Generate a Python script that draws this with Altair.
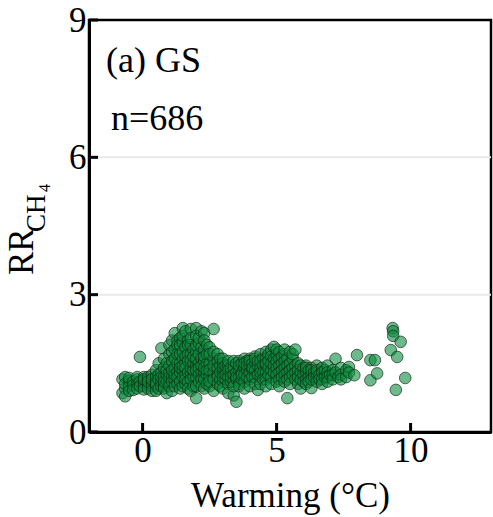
import altair as alt
import pandas as pd

# Warming (°C) column positions and the RR values read at each of them
warming_cols = [-0.75, -0.65, -0.5, -0.35, -0.2, -0.1, 0.05, 0.2, 0.35, 0.5, 0.6, 0.7, 0.8, 0.9,
                1.0, 1.1, 1.2, 1.3, 1.4, 1.5, 1.6, 1.7, 1.8, 1.9, 2.0, 2.1, 2.2, 2.3, 2.4, 2.5,
                2.65, 2.8, 2.9, 3.0, 3.1, 3.2, 3.3, 3.4, 3.5, 3.6, 3.7, 3.8, 3.9, 4.0, 4.1, 4.2,
                4.3, 4.4, 4.5, 4.6, 4.7, 4.8, 4.9, 5.0, 5.1, 5.2, 5.3, 5.4, 5.5, 5.6, 5.7, 5.8,
                5.9, 6.0, 6.1, 6.2, 6.3, 6.4, 6.5, 6.6, 6.7, 6.8, 6.9, 7.0, 7.1, 7.2, 7.3, 7.4,
                7.6, 7.7, 7.9, 8.0, 8.5, 8.67, 8.75, 9.26, 9.33, 9.35, 9.45, 9.5, 9.63, 9.8]
rr_by_col = [
    [1.15, 0.85], [1.2, 0.95, 0.78, 1.05], [1.12, 1.0, 0.9, 1.18], [1.1, 1.02, 0.92],
    [1.15, 1.05, 0.95, 1.2], [1.64, 1.1, 1.0], [1.1, 1.2, 1.0, 0.93, 1.15],
    [1.15, 1.05, 0.95, 1.2, 1.1], [1.1, 1.0, 1.25, 0.9, 1.15], [1.2, 1.1, 1.35, 1.0, 0.9, 1.05],
    [1.5, 1.25, 1.15, 0.95], [1.83, 1.3, 1.1, 1.0, 1.2], [1.0, 1.2, 1.4, 1.6, 0.95, 1.1],
    [1.25, 1.5, 1.1, 0.85, 1.35], [1.3, 1.7, 1.9, 1.1, 1.0, 1.45, 1.2],
    [1.2, 1.55, 2.0, 1.35, 0.9, 1.1, 1.75], [2.16, 1.8, 1.4, 1.15, 1.0, 1.6, 1.25],
    [2.0, 1.5, 1.3, 1.05, 1.9, 1.7, 1.2], [2.05, 1.7, 1.5, 1.3, 1.1, 0.95, 1.9, 1.4],
    [2.27, 1.95, 1.6, 1.35, 1.2, 1.0, 1.75, 2.1, 1.45], [2.2, 1.85, 1.5, 1.25, 1.05, 1.4, 1.65, 1.15],
    [2.0, 1.7, 1.3, 1.1, 1.55, 1.9, 0.95], [2.25, 1.9, 1.7, 1.3, 1.15, 0.9, 1.55, 2.05, 1.4],
    [1.8, 1.5, 1.2, 1.0, 1.65, 1.35], [2.27, 2.1, 1.75, 1.45, 1.2, 1.0, 1.6, 1.35, 1.9, 0.74],
    [1.94, 1.5, 1.25, 1.1, 2.05, 1.7, 1.4], [1.85, 1.6, 1.3, 1.15, 1.0, 1.45, 2.2],
    [2.16, 1.8, 1.55, 1.3, 1.15, 0.95, 1.4, 1.65, 2.0], [1.9, 1.5, 1.25, 1.05, 1.7, 1.35],
    [1.85, 1.5, 1.2, 1.0, 1.35, 1.7, 1.1], [2.25, 1.6, 1.3, 1.15, 0.9, 1.45, 1.75],
    [1.55, 1.25, 1.05, 1.4, 1.7, 1.2], [1.45, 1.15, 1.3, 1.0, 1.6], [1.5, 1.3, 1.1, 0.95, 1.6, 1.2, 1.4],
    [1.35, 1.15, 1.25, 1.45], [1.45, 1.2, 1.05, 1.35, 0.85, 1.55], [1.3, 1.1, 1.4, 1.2],
    [1.4, 1.25, 1.1, 0.8, 1.55, 1.0], [0.66, 1.3, 1.15, 1.5, 1.2], [1.55, 1.35, 1.2, 1.05, 1.0, 1.45],
    [1.5, 1.3, 1.15, 1.25], [1.6, 1.4, 1.25, 1.1, 0.95, 1.5], [1.55, 1.35, 1.2, 1.45],
    [1.6, 1.45, 1.3, 1.15, 1.0, 1.55], [1.5, 1.35, 1.2, 1.4], [1.65, 1.5, 1.35, 1.2, 1.05, 1.6],
    [0.92, 1.25, 1.45, 1.55], [1.7, 1.55, 1.4, 1.2, 1.05, 1.3], [1.6, 1.45, 1.3, 1.15],
    [1.75, 1.6, 1.45, 1.3, 1.15, 1.0, 1.5], [1.7, 1.55, 1.4, 1.25], [1.8, 1.65, 1.5, 1.35, 1.2, 1.05],
    [1.86, 1.6, 1.45, 1.3], [1.7, 1.55, 1.4, 1.25, 1.1, 1.8], [1.75, 1.6, 1.45, 1.3, 1.15, 1.0],
    [1.65, 1.5, 1.35, 1.2], [1.7, 1.55, 1.4, 1.25, 1.1, 1.8], [0.74, 1.6, 1.45, 1.3, 1.15],
    [1.75, 1.5, 1.35, 1.2, 1.05], [1.6, 1.4, 1.25, 1.7], [1.8, 1.45, 1.3, 1.15], [1.5, 1.35, 1.2, 1.05],
    [1.45, 1.3, 1.15, 0.95], [1.4, 1.25, 1.1], [1.45, 1.3, 1.15, 1.05, 1.4], [1.35, 1.2, 1.1],
    [0.96, 1.4, 1.25, 1.15, 1.35], [1.3, 1.2], [1.45, 1.3, 1.2, 1.1, 1.35], [1.25, 1.15],
    [1.4, 1.3, 1.15, 1.05], [1.35, 1.2], [1.45, 1.3, 1.2, 1.1], [1.25], [1.35, 1.25, 1.15],
    [1.6, 1.3], [1.2], [1.4, 1.25, 1.15], [1.35, 1.2], [1.42, 1.3], [1.24], [1.68],
    [1.57, 1.13], [1.57], [1.28], [1.79], [2.27], [2.2, 2.1], [0.92], [1.64], [1.97], [1.18],
]
x_ticks = [0, 5, 10]
y_ticks = [0, 3, 6, 9]
y_grid = [3, 6]
panel_label = ["(a) GS"]
n_label = ["n=686"]

rows = [{"warming": x, "rr": y} for x, ys in zip(warming_cols, rr_by_col) for y in ys]
df = pd.DataFrame(rows)

FONT = "Liberation Serif"
FS = 35
W, H = 402, 412
TICK_LEN = 9
xscale = alt.Scale(domain=[-2, 13], nice=False, zero=False)
yscale = alt.Scale(domain=[0, 9], nice=False)

xaxis = alt.Axis(values=x_ticks, title="Warming (°C)", grid=False, ticks=False,
                 domainColor="black", domainWidth=3,
                 labelFont=FONT, labelFontSize=FS, labelColor="black", labelPadding=1,
                 titleFont=FONT, titleFontSize=FS, titleFontWeight="normal",
                 titleColor="black", titlePadding=10)
yaxis = alt.Axis(values=y_ticks, title=None, grid=False, ticks=False,
                 domainColor="black", domainWidth=3,
                 labelFont=FONT, labelFontSize=FS, labelColor="black", labelPadding=3)

grid = alt.Chart(pd.DataFrame({"g": y_grid})).mark_rule(
    color="#e9e9e9", strokeWidth=2
).encode(y=alt.Y("g:Q", scale=yscale, axis=yaxis))

points = alt.Chart(df).mark_circle(
    size=135, color="#0a8a3e", fillOpacity=0.6, stroke="#102010",
    strokeWidth=1, strokeOpacity=0.65
).encode(
    x=alt.X("warming:Q", scale=xscale, axis=xaxis),
    y=alt.Y("rr:Q", scale=yscale, axis=yaxis),
)

# inward tick marks: rule marks at the tick values, offset inward in pixels
xtick_marks = alt.Chart(pd.DataFrame({"tv": x_ticks})).mark_rule(
    color="#000000", strokeWidth=3, strokeCap="butt"
).encode(
    x=alt.X("tv:Q", scale=xscale, axis=xaxis),
    y=alt.value(H - TICK_LEN),
    y2=alt.value(H),
)
ytick_marks = alt.Chart(pd.DataFrame({"tv": y_ticks})).mark_rule(
    color="#000000", strokeWidth=3, strokeCap="butt"
).encode(
    y=alt.Y("tv:Q", scale=yscale, axis=yaxis),
    x=alt.value(0),
    x2=alt.value(TICK_LEN),
)

t1 = alt.Chart(pd.DataFrame({"t": panel_label})).mark_text(
    font=FONT, fontSize=36, align="left", baseline="alphabetic", color="black"
).encode(text="t:N", x=alt.value(17), y=alt.value(52))

t2 = alt.Chart(pd.DataFrame({"t": n_label})).mark_text(
    font=FONT, fontSize=36, align="left", baseline="alphabetic", color="black"
).encode(text="t:N", x=alt.value(22), y=alt.value(110))

def ytitle(txt, size, x, y):
    return alt.Chart(pd.DataFrame({"t": [txt]})).mark_text(
        font=FONT, fontSize=size, align="left", baseline="alphabetic",
        angle=270, color="black"
    ).encode(text="t:N", x=alt.value(x), y=alt.value(y))

yt = ytitle("RR", FS, -56, 255) + ytitle("CH", 27, -44, 212) + ytitle("4", 16, -39, 172)

chart = alt.layer(grid, xtick_marks, ytick_marks, points, t1, t2, yt).properties(
    width=W, height=H,
    autosize=alt.AutoSizeParams(type="none"),
    padding={"left": 89, "top": 20, "right": 2, "bottom": 85},
).configure_view(stroke="black", strokeWidth=2.5)

chart.save("out.html", embed_options={"renderer": "svg", "actions": False})
